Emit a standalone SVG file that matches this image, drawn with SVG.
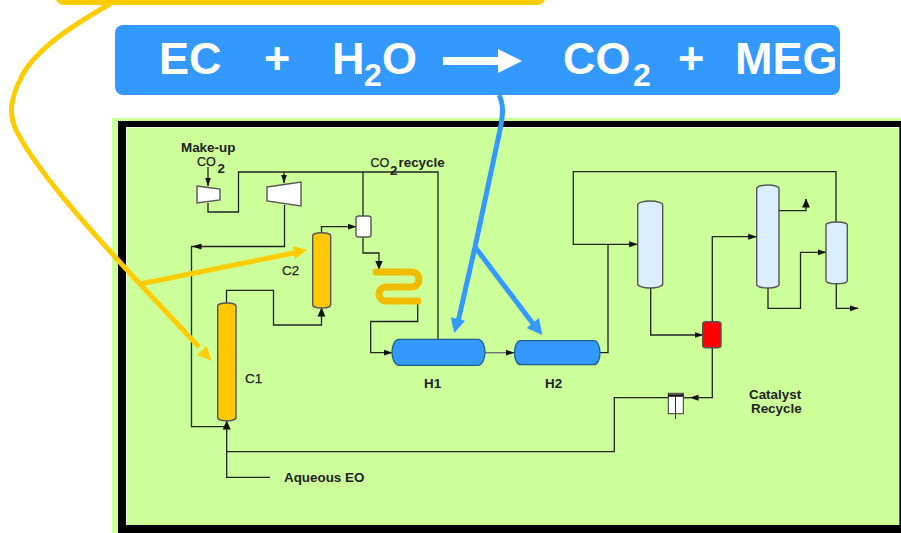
<svg xmlns="http://www.w3.org/2000/svg" width="901" height="533" viewBox="0 0 901 533">
<style>
text{font-family:"Liberation Sans",Arial,sans-serif}
.lbl{font-size:13.4px;font-weight:bold;fill:#222}
.reg{font-size:13.400px;fill:#222;stroke:#222;stroke-width:.25}
.co{font-size:12.500px;fill:#222;stroke:#222;stroke-width:.25}
.title{font-size:45px;font-weight:bold;fill:#fff}
.sub{font-size:32px;font-weight:bold;fill:#fff}
.ln{fill:none;stroke:#222;stroke-width:1.3}
.arr{marker-end:url(#ah)}
.big{marker-end:url(#ab)}
.ves{stroke:#555;stroke-width:1.4}
.blue{fill:#3399ff;stroke:#1f5f8f;stroke-width:1.3}
.pale{fill:#dbeeff}
.or{fill:#ffc800}
.yl{fill:none;stroke:#ffcc00;stroke-width:5}
.bl{fill:none;stroke:#3399ff;stroke-width:5}
</style>
<defs>
<marker id="ah" markerUnits="userSpaceOnUse" markerWidth="9" markerHeight="7" refX="8.5" refY="3.500" orient="auto"><path d="M0 0.500L9 3.500L0 6.500Z" fill="#111"/></marker>
<marker id="ab" markerUnits="userSpaceOnUse" markerWidth="9" markerHeight="9" refX="8.5" refY="4.500" orient="auto"><path d="M0 0.500L9 4.500L0 8.500Z" fill="#111"/></marker>
</defs>
<rect width="901" height="533" fill="#fff"/>
<g id="panel">
<rect x="112" y="118" width="789" height="415" fill="#ccff99"/>
<path d="M126 127.500H899.500M126.500 127V525" fill="none" stroke="#eeffdd" stroke-width="1"/>
<path d="M118 121H901V533H118ZM126 127V525H899.400V127Z" fill="#000" fill-rule="evenodd"/>
</g>
<g id="connectors">
<path class="ln arr" d="M208 167V186"/>
<path class="ln" d="M208 203V212H238.500V172H438V339"/>
<path class="ln arr" d="M284 172V183"/>
<path class="ln" d="M363 172V216"/>
<path class="ln arr" d="M284.500 205V246.500H193"/>
<path class="ln" d="M193 246.500H191.500V426.700H226.700"/>
<path class="ln big" d="M226.500 303V290.300H273.500V325H321.500V308"/>
<path class="ln arr" d="M321.500 232V226.700H356"/>
<path class="ln big" d="M363 237V253H379V269"/>
<path class="ln arr" d="M417.700 303V321.500H370.700V352.700H392"/>
<path class="ln arr" d="M485 352.700H514" style="stroke:#667"/>
<path class="ln" d="M600 352.700H608V244.300"/>
<path class="ln arr" d="M836 222V171.700H573.300V244.300H637.700"/>
<path class="ln arr" d="M650.700 288V335H703"/>
<path class="ln arr" d="M712.300 322V236.700H756.700"/>
<path class="ln big" d="M779 210.700H806V199"/>
<path class="ln arr" d="M768 288V308.300H800.500V252.300H826"/>
<path class="ln arr" d="M836.300 284V308.300H858"/>
<path class="ln arr" d="M712.300 348V397.700H690"/>
<path class="ln" d="M690 397.700H683"/>
<path class="ln" d="M668 397.700H614.300V451.600H226.700"/>
<path class="ln big" d="M270 477.300H226.700V421"/>
</g>
<g id="C1"><rect class="ves or" x="217.700" y="303" width="18.300" height="117.700" rx="9" ry="3"/><text class="reg" x="245" y="382.700">C1</text></g>
<g id="C2"><rect class="ves or" x="312.700" y="232.700" width="18" height="75.300" rx="9" ry="3"/><text class="reg" x="282" y="275">C2</text></g>
<g id="makeup-compressor"><path class="ves" d="M197 186L220 189V200L197 203Z" fill="#fff"/></g>
<g id="recycle-compressor"><path class="ves" d="M267 187L301 182V206L267 201Z" fill="#fff"/></g>
<g id="drum"><rect class="ves" x="356" y="216" width="15" height="21" rx="3" ry="2" fill="#fff"/></g>
<g id="coil"><path d="M376 272H411.500A7.500 7.500 0 0 1 411.500 287H386A7 7 0 0 0 386 301H418" fill="none" stroke="#f0bb00" stroke-width="7" stroke-linecap="round"/></g>
<g id="H1"><rect class="blue" x="392" y="339.300" width="93" height="26" rx="7" ry="13"/><text class="lbl" x="424" y="388.300">H1</text></g>
<g id="H2"><rect class="blue" x="514.500" y="340.700" width="85.500" height="24" rx="6" ry="12"/><text class="lbl" x="545" y="388.300">H2</text></g>
<g id="V1"><rect class="ves pale" x="637.700" y="201" width="25" height="87" rx="12.500" ry="4"/></g>
<g id="V2"><rect class="ves pale" x="756.700" y="185" width="22.300" height="103" rx="11" ry="3.500"/></g>
<g id="V3"><rect class="ves pale" x="826" y="222" width="21.300" height="61.700" rx="10.500" ry="3"/></g>
<g id="separator"><rect class="ves" x="702.700" y="321.700" width="18.300" height="26" rx="4" ry="2" fill="#f00"/></g>
<g id="filter"><rect x="668.300" y="393.300" width="15" height="20.400" fill="#fff" stroke="#333" stroke-width="1"/><path d="M668.300 395.500H683.300" stroke="#111" stroke-width="2.500"/><path d="M675.500 395V419" stroke="#333" stroke-width="1"/></g>
<g id="labels">
<text class="lbl" x="181" y="151.700">Make-up</text>
<text class="co" x="197" y="165.700">CO</text>
<text class="lbl" x="217.500" y="173">2</text>
<text class="co" x="370.500" y="166.700">CO</text>
<text class="lbl" x="390" y="175">2</text>
<text class="lbl" x="398.500" y="166.700">recycle</text>
<text class="lbl" x="284" y="482">Aqueous EO</text>
<text class="lbl" x="749" y="399.300">Catalyst</text>
<text class="lbl" x="751" y="412.700">Recycle</text>
</g>
<g id="top-bar"><path d="M56 0H545Q542 5 537 5H64Q59 5 56 0Z" fill="#ffcc00"/></g>
<g id="yellow-arrows">
<path class="yl" d="M110 4C75 24 33 50 20 80C10 100 9 115 16 130C35 168 85 225 140 284L199 347"/>
<path d="M211.700 360.700L196.700 355L206.700 346Z" fill="#ffcc00"/>
<path class="yl" d="M140 284L296 252.500"/>
<path d="M307.300 250L292.700 246L295 259Z" fill="#ffcc00"/>
</g>
<g id="equation">
<rect x="115" y="25" width="725" height="70" rx="8" fill="#3399ff"/>
<text class="title" x="159" y="74.300">EC</text>
<text class="title" x="264" y="74.300">+</text>
<text class="title" x="332" y="74.300">H</text>
<text class="sub" x="364" y="86">2</text>
<text class="title" x="382" y="74.300">O</text>
<path d="M443 57H498V49L522 61L498 73V65H443Z" fill="#fff"/>
<text class="title" x="563" y="74.300">CO</text>
<text class="sub" x="633" y="86">2</text>
<text class="title" x="678" y="74.300">+</text>
<text class="title" x="735" y="74.300">MEG</text>
</g>
<g id="blue-arrows">
<path class="bl" d="M499 95C504 105 503 115 500 130L475 247L458 322"/>
<path d="M454.300 333L450.700 317.300L465 320.700Z" fill="#3399ff"/>
<path class="bl" d="M475 247L534 325"/>
<path d="M542.300 335L526.700 328L539 318Z" fill="#3399ff"/>
</g>
</svg>
